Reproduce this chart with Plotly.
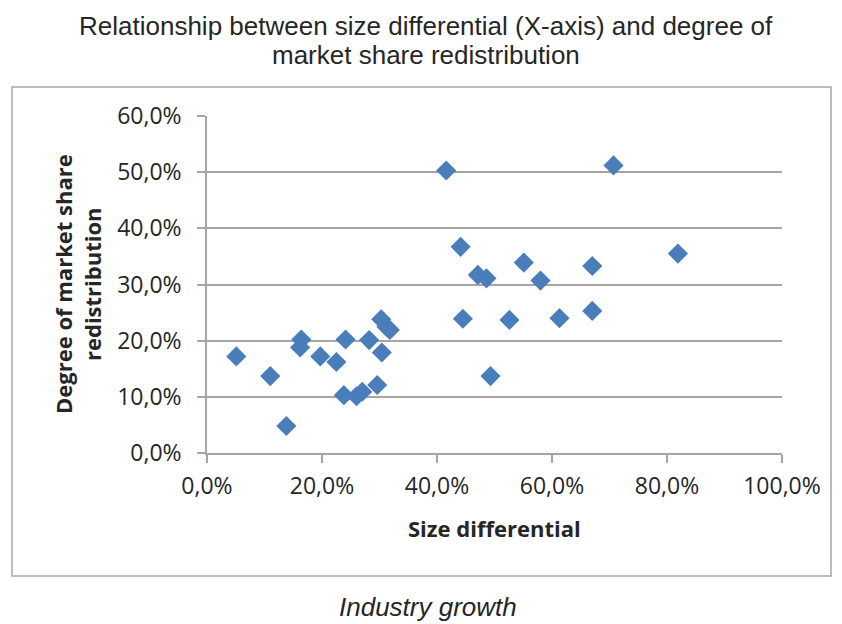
import plotly.graph_objects as go

# Size differential (x) vs. degree of market share redistribution (y), as fractions
size_differential = [
    0.051, 0.110, 0.138, 0.164, 0.162, 0.197, 0.225, 0.241, 0.238, 0.260,
    0.270, 0.282, 0.296, 0.303, 0.312, 0.318, 0.304, 0.416, 0.441, 0.445,
    0.471, 0.486, 0.493, 0.707, 0.819, 0.551, 0.580, 0.670, 0.670, 0.613,
    0.526,
]
redistribution = [
    0.172, 0.137, 0.048, 0.202, 0.188, 0.172, 0.162, 0.202, 0.103, 0.101,
    0.109, 0.201, 0.121, 0.238, 0.225, 0.219, 0.179, 0.503, 0.367, 0.239,
    0.317, 0.311, 0.137, 0.512, 0.355, 0.339, 0.307, 0.333, 0.253, 0.240,
    0.237,
]

x_ticks = [0, 0.2, 0.4, 0.6, 0.8, 1.0]
y_ticks = [0, 0.1, 0.2, 0.3, 0.4, 0.5, 0.6]

title_lines = ["Relationship between size differential (X-axis) and degree of",
               "market share redistribution"]
x_title = "Size differential"
y_title_lines = ["Degree of market share", "redistribution"]
caption = "Industry growth"

GRID = "#A6A6A6"
TEXT = "#262626"
LABEL_FONT = "Open Sans"

# Plot area in pixels (used to place paper-referenced annotations)
PL, PR, PT, PB = 207, 782, 116, 453
PW, PH = PR - PL, PB - PT


def px_x(x):
    return (x - PL) / PW


def px_y(y):
    return (PB - y) / PH


fig = go.Figure(
    go.Scatter(
        x=size_differential,
        y=redistribution,
        mode="markers",
        marker=dict(symbol="diamond", size=15.5, color="#4A7EBB",
                    line=dict(width=0)),
        cliponaxis=False,
        hoverinfo="x+y",
    )
)

fig.update_layout(
    width=842,
    height=624,
    margin=dict(l=PL, r=842 - PR, t=PT, b=624 - PB),
    paper_bgcolor="white",
    plot_bgcolor="white",
    separators=", ",
    showlegend=False,
    font=dict(family=LABEL_FONT, color=TEXT),
)

fig.update_xaxes(
    range=[0, 1.0],
    tickvals=x_ticks,
    tickformat=".1%",
    showgrid=False,
    zeroline=False,
    showline=True,
    linecolor=GRID,
    linewidth=1.5,
    ticks="outside",
    ticklen=8,
    tickwidth=1.5,
    tickcolor=GRID,
    tickfont=dict(family=LABEL_FONT, size=23, color=TEXT),
    ticklabelstandoff=4,
)

fig.update_yaxes(
    range=[0, 0.6],
    tickvals=y_ticks,
    tickformat=".1%",
    showgrid=True,
    gridcolor=GRID,
    gridwidth=1.5,
    zeroline=False,
    showline=True,
    linecolor=GRID,
    linewidth=1.5,
    ticks="outside",
    ticklen=8,
    tickwidth=1.5,
    tickcolor=GRID,
    tickfont=dict(family=LABEL_FONT, size=23, color=TEXT),
    ticklabelstandoff=11,
)

# X-axis title
fig.add_annotation(
    xref="paper", yref="paper", x=px_x(494), y=px_y(528),
    text=f"<b>{x_title}</b>", showarrow=False,
    font=dict(family=LABEL_FONT, size=22, color=TEXT),
    xanchor="center", yanchor="middle",
)

# Rotated two-line y-axis title
for i, line in enumerate(y_title_lines):
    fig.add_annotation(
        xref="paper", yref="paper", x=px_x(63 + 29 * i), y=px_y(284),
        text=f"<b>{line}</b>", textangle=-90, showarrow=False,
        font=dict(family=LABEL_FONT, size=22, color=TEXT),
        xanchor="center", yanchor="middle",
    )

# Chart title, one annotation per line
for i, line in enumerate(title_lines):
    fig.add_annotation(
        xref="paper", yref="paper", x=px_x(426), y=px_y(26 + 29 * i),
        text=line, showarrow=False,
        font=dict(family="Liberation Sans", size=26, color=TEXT),
        xanchor="center", yanchor="middle",
    )

# Caption under the chart frame
fig.add_annotation(
    xref="paper", yref="paper", x=px_x(428), y=px_y(607),
    text=f"<i>{caption}</i>", showarrow=False,
    font=dict(family="Liberation Sans", size=26, color=TEXT),
    xanchor="center", yanchor="middle",
)

# Chart frame
fig.add_shape(
    type="rect", xref="paper", yref="paper",
    x0=px_x(12), x1=px_x(831), y0=px_y(576), y1=px_y(87),
    line=dict(color=GRID, width=1.5), fillcolor="rgba(0,0,0,0)",
    layer="below",
)

fig.write_html("out.html")
